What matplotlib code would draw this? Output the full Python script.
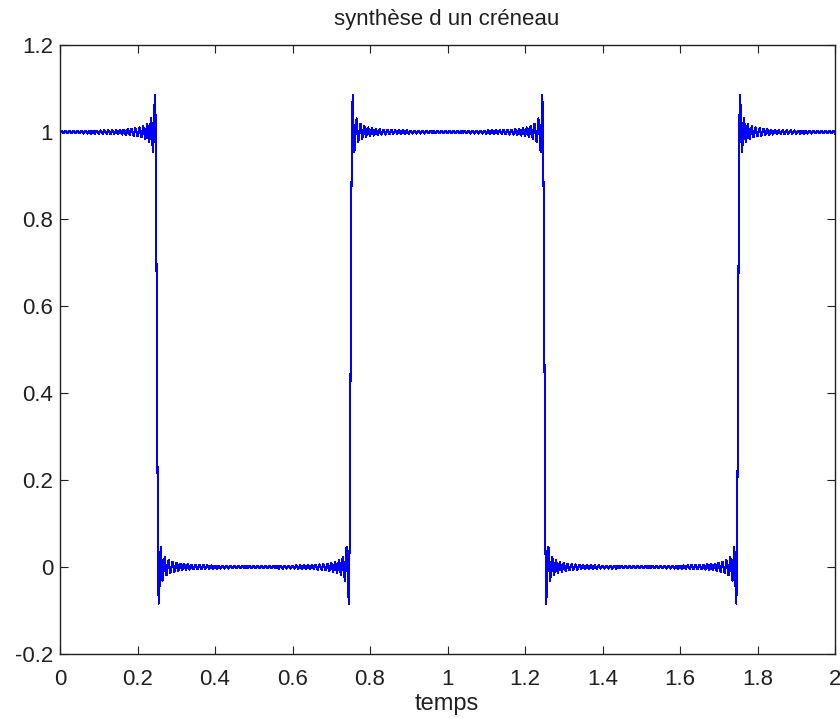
import numpy as np
import matplotlib
matplotlib.use("Agg")
import matplotlib.pyplot as plt

# Synthesis data: odd harmonics of a square wave (period 1, duty 50 %)
offset = 0.5                              # mean value (a0)
harmonic_orders = np.arange(1, 100, 2)    # 1, 3, 5, ..., 99
t_start, t_stop, n_samples = 0.0, 2.0, 999

xticks = [0, 0.2, 0.4, 0.6, 0.8, 1, 1.2, 1.4, 1.6, 1.8, 2]
xticklabels = ["0", "0.2", "0.4", "0.6", "0.8", "1", "1.2", "1.4", "1.6", "1.8", "2"]
yticks = [-0.2, 0, 0.2, 0.4, 0.6, 0.8, 1, 1.2]
yticklabels = ["-0.2", "0", "0.2", "0.4", "0.6", "0.8", "1", "1.2"]

t = np.linspace(t_start, t_stop, n_samples)
amps = 2.0 / (np.pi * harmonic_orders) * (-1.0) ** ((harmonic_orders - 1) // 2)
y = offset + (amps[:, None] * np.cos(2 * np.pi * harmonic_orders[:, None] * t[None, :])).sum(axis=0)

plt.rcParams['font.family'] = ['Liberation Sans', 'DejaVu Sans']
fig = plt.figure(figsize=(8.4, 7.18), dpi=100)
ax = fig.add_axes([60/840, 1-654/718, (835-60)/840, (654-45)/718])
ax.plot(t, y, color=(0, 0, 1), lw=0.75, antialiased=False)
ax.set_xlim(0, 2)
ax.set_ylim(-0.2, 1.2)
ax.set_xticks(xticks)
ax.set_xticklabels(xticklabels)
ax.set_yticks(yticks)
ax.set_yticklabels(yticklabels)
ax.tick_params(direction='in', length=6, width=0.8, top=True, right=True,
               labelsize=16, colors='#202020')
ax.tick_params(axis='x', pad=11)
ax.tick_params(axis='y', pad=5)
for s in ax.spines.values():
    s.set_linewidth(1.0)
    s.set_color('#202020')
fig.text(447/840, 1-20/718, "synthèse d un créneau", fontsize=16,
         ha='center', va='center', color='#202020')
fig.text(447/840, 1-704/718, "temps", fontsize=17,
         ha='center', va='center', color='#202020')
fig.savefig("out.png", dpi=100)
